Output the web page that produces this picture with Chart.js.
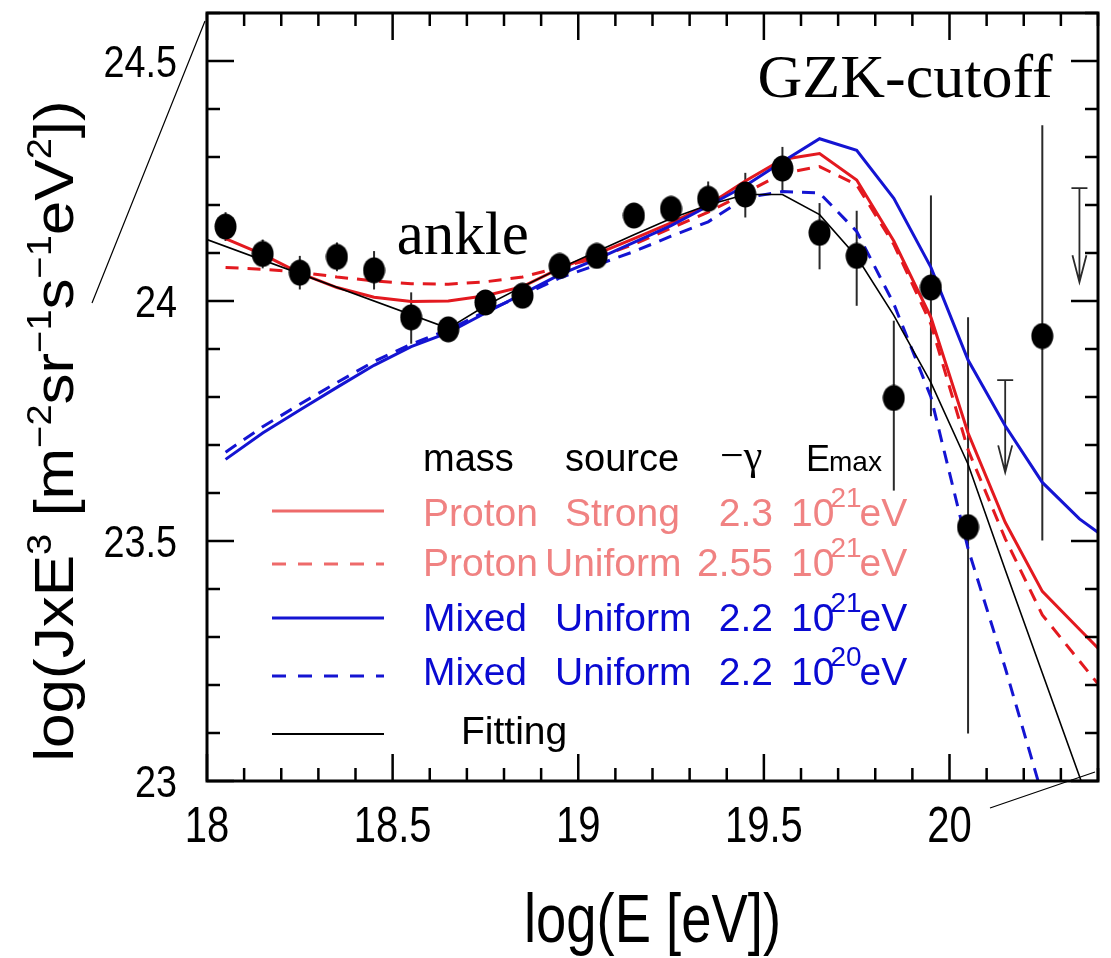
<!DOCTYPE html>
<html>
<head>
<meta charset="utf-8">
<title>UHECR spectrum: ankle and GZK cutoff</title>
<script src="https://cdn.jsdelivr.net/npm/chart.js@4/dist/chart.umd.min.js"></script>
<style>body{margin:0;background:#fff}</style>
</head>
<body>
<canvas id="myChart" width="1111" height="958"></canvas>
<script>
// measured flux points, log(E) bin centres
const dataE = [18.05, 18.15, 18.25, 18.35, 18.45, 18.55, 18.65, 18.75, 18.85, 18.95, 19.05,
               19.15, 19.25, 19.35, 19.45, 19.55, 19.65, 19.75, 19.85, 19.95, 20.05, 20.25];
const dataFlux = [24.155, 24.098, 24.059, 24.092, 24.064, 23.966, 23.941, 23.997, 24.011, 24.073, 24.094,
                  24.178, 24.192, 24.213, 24.222, 24.276, 24.142, 24.094, 23.798, 24.028, 23.529, 23.927];
const errHigh = [24.185, 24.128, 24.094, 24.122, 24.104, 24.018, 23.96, 24.015, 24.03, 24.09, 24.11,
                 24.195, 24.21, 24.249, 24.267, 24.321, 24.204, 24.188, 23.959, 24.22, 23.966, 24.366];
const errLow = [24.125, 24.068, 24.024, 24.062, 24.024, 23.911, 23.922, 23.979, 23.992, 24.056, 24.078,
                24.161, 24.174, 24.184, 24.174, 24.228, 24.066, 23.99, 23.605, 23.76, 23.099, 23.501];

// upper limits (bar top, arrow tip)
const ulE = [20.15, 20.35];
const ulTop = [23.835, 24.235];
const ulTip = [23.643, 24.039];

// model curves
const modelE = [18.05, 18.15, 18.25, 18.35, 18.45, 18.55, 18.65, 18.75, 18.85, 18.95, 19.05, 19.15, 19.25,
                19.35, 19.45, 19.55, 19.65, 19.75, 19.85, 19.95, 20.05, 20.15, 20.25, 20.35, 20.45];
const protonStrong = [24.13, 24.097, 24.058, 24.028, 24.008, 23.999, 24.0, 24.011, 24.03, 24.068, 24.098, 24.13, 24.163,
                      24.2, 24.25, 24.295, 24.307, 24.252, 24.125, 23.966, 23.725, 23.539, 23.395, 23.316, 23.238];
const protonUniform = [24.07, 24.066, 24.06, 24.05, 24.042, 24.036, 24.035, 24.04, 24.05, 24.07, 24.09, 24.118, 24.152,
                       24.185, 24.225, 24.266, 24.28, 24.242, 24.118, 23.952, 23.69, 23.505, 23.346, 23.25, 23.155];
const mixedHigh = [23.67, 23.725, 23.773, 23.82, 23.866, 23.905, 23.934, 23.975, 24.015, 24.055, 24.087, 24.122, 24.157,
                   24.198, 24.24, 24.29, 24.338, 24.314, 24.214, 24.07, 23.877, 23.74, 23.622, 23.546, 23.49];
const mixedLow = [23.685, 23.738, 23.785, 23.83, 23.874, 23.91, 23.94, 23.978, 24.012, 24.048, 24.075, 24.103, 24.135,
                  24.165, 24.215, 24.228, 24.225, 24.145, 23.994, 23.8, 23.484, 23.236, 22.97, 22.7, 22.45];
const fitE = [18.0, 18.65, 18.75, 18.85, 18.95, 19.05, 19.15, 19.25, 19.35, 19.45, 19.55,
              19.65, 19.75, 19.85, 19.95, 20.05, 20.15, 20.25, 20.35, 20.45];
const fitFlux = [24.128, 23.943, 23.99, 24.03, 24.068, 24.103, 24.138, 24.172, 24.2, 24.222, 24.222,
                 24.18, 24.092, 23.97, 23.83, 23.66, 23.44, 23.225, 23.01, 22.79];

// legend text
const legendHead = ['mass', 'source', '\u2212\u03b3', 'E', 'max'];
const seriesMass = ['Proton', 'Proton', 'Mixed', 'Mixed'];
const seriesSource = ['Strong', 'Uniform', 'Uniform', 'Uniform'];
const seriesGamma = ['2.3', '2.55', '2.2', '2.2'];
const seriesEmaxExp = ['21', '21', '21', '20'];
const fitLabel = 'Fitting';

// axis text
const xTitle = 'log(E [eV])';
const yTitleParts = [['log(JxE', 0], ['3', 1], [' [m', 0], ['\u22122', 1], ['sr', 0], ['\u22121', 1],
                     ['s', 0], ['\u22121', 1], ['eV', 0], ['2', 1], ['])', 0]];

const SANS = '"Liberation Sans", Arial, sans-serif';
const SERIF = '"Liberation Serif", "Times New Roman", serif';
const RED = '#e3191f', BLUE = '#1414d2', SALMON = '#f08282', TBLUE = '#0a0ad2';

function ellipseMarker(w, h) {
    const c = document.createElement('canvas');
    c.width = w; c.height = h;
    const g = c.getContext('2d');
    g.fillStyle = '#000';
    g.beginPath();
    g.ellipse(w / 2, h / 2, w / 2 - 0.5, h / 2 - 0.5, 0, 0, 2 * Math.PI);
    g.fill();
    return c;
}

function pts(xs, ys) {
    return xs.map((v, i) => ({x: v, y: ys[i]}));
}

function isMajor(v) {
    return Math.abs(v * 2 - Math.round(v * 2)) < 1e-6;
}

function tickText(v) {
    return String(Math.round(v * 10) / 10);
}

// condensed text: helvetica squeezed horizontally
function narrowText(ctx, s, x, y, size, sx, align) {
    ctx.save();
    ctx.translate(x, y);
    ctx.scale(sx, 1);
    ctx.font = size + 'px ' + SANS;
    ctx.textAlign = align;
    ctx.fillText(s, 0, 0);
    ctx.restore();
}

const deco = {
    id: 'deco',
    beforeDatasetsDraw(chart) {
        const {ctx, chartArea: a, scales: {x, y}} = chart;
        ctx.save();
        ctx.beginPath();
        ctx.rect(a.left, a.top, a.width, a.height);
        ctx.clip();
        ctx.strokeStyle = '#2a2a2a';
        ctx.lineWidth = 2;
        dataE.forEach((e, i) => {
            const px = x.getPixelForValue(e);
            ctx.beginPath();
            ctx.moveTo(px, y.getPixelForValue(errLow[i]));
            ctx.lineTo(px, y.getPixelForValue(errHigh[i]));
            ctx.stroke();
        });
        ctx.lineWidth = 1.8;
        ulE.forEach((e, i) => {
            const px = x.getPixelForValue(e);
            const top = y.getPixelForValue(ulTop[i]);
            const tip = y.getPixelForValue(ulTip[i]);
            ctx.beginPath();
            ctx.moveTo(px - 8, top); ctx.lineTo(px + 8, top);
            ctx.moveTo(px, top); ctx.lineTo(px, tip);
            ctx.moveTo(px - 7, tip - 27); ctx.lineTo(px, tip); ctx.lineTo(px + 7, tip - 27);
            ctx.stroke();
        });
        ctx.restore();
    },
    afterDraw(chart) {
        const {ctx, chartArea: a, scales: {x, y}} = chart;
        ctx.save();
        // ticks on all four sides, pointing inward
        ctx.strokeStyle = '#000';
        ctx.lineWidth = 2.5;
        ctx.beginPath();
        x.ticks.forEach(t => {
            const px = x.getPixelForValue(t.value), len = isMajor(t.value) ? 27 : 13;
            ctx.moveTo(px, a.bottom); ctx.lineTo(px, a.bottom - len);
            ctx.moveTo(px, a.top); ctx.lineTo(px, a.top + len);
        });
        y.ticks.forEach(t => {
            const py = y.getPixelForValue(t.value), len = isMajor(t.value) ? 27 : 13;
            ctx.moveTo(a.left, py); ctx.lineTo(a.left + len, py);
            ctx.moveTo(a.right, py); ctx.lineTo(a.right - len, py);
        });
        ctx.stroke();
        ctx.lineWidth = 3;
        ctx.strokeRect(a.left, a.top, a.width, a.height);

        // tick labels and x title, condensed like the original
        ctx.fillStyle = '#000';
        ctx.textBaseline = 'alphabetic';
        x.ticks.forEach(t => {
            if (isMajor(t.value) && t.value < x.max - 1e-6) {
                narrowText(ctx, tickText(t.value), x.getPixelForValue(t.value), a.bottom + 61, 50, 0.8, 'center');
            }
        });
        y.ticks.forEach(t => {
            if (isMajor(t.value)) {
                narrowText(ctx, tickText(t.value), a.left - 30, y.getPixelForValue(t.value) + 16, 45, 0.84, 'right');
            }
        });
        narrowText(ctx, xTitle, (a.left + a.right) / 2, a.bottom + 161, 68, 0.8, 'center');

        // thin zoom-guide lines outside the frame
        ctx.lineWidth = 1.2;
        ctx.beginPath();
        ctx.moveTo(a.left - 2, a.top + 8); ctx.lineTo(a.left - 115, a.top + 290);
        ctx.moveTo(a.right - 108, a.bottom + 27); ctx.lineTo(a.right - 3, a.bottom - 9);
        ctx.stroke();

        // annotations
        ctx.textAlign = 'left';
        ctx.font = '61px ' + SERIF;
        ctx.fillText('ankle', x.getPixelForValue(18.511), y.getPixelForValue(24.097));
        ctx.font = '62px ' + SERIF;
        ctx.fillText('GZK-cutoff', x.getPixelForValue(19.483), y.getPixelForValue(24.424));

        // legend
        const L = a.left, T = a.top;
        ctx.font = '38px ' + SANS;
        ctx.fillText(legendHead[0], L + 216, T + 458);
        ctx.fillText(legendHead[1], L + 358, T + 458);
        ctx.font = '42px ' + SERIF;
        ctx.fillText(legendHead[2], L + 513, T + 456);
        ctx.font = '36px ' + SANS;
        ctx.fillText(legendHead[3], L + 599, T + 458);
        ctx.font = '28px ' + SANS;
        ctx.fillText(legendHead[4], L + 622, T + 458);

        const rowY = [513, 563, 618, 672];
        const lineY = [498, 551, 605, 663];
        const srcX = [358, 338, 348, 348];
        const txtCol = [SALMON, SALMON, TBLUE, TBLUE];
        const lineCol = ['#ee6a6a', '#ee6a6a', BLUE, BLUE];
        const dash = [[], [14, 12], [], [14, 12]];
        for (let i = 0; i < 4; i++) {
            ctx.strokeStyle = lineCol[i];
            ctx.lineWidth = 3;
            ctx.setLineDash(dash[i]);
            ctx.beginPath();
            ctx.moveTo(L + 65, T + lineY[i]); ctx.lineTo(L + 177, T + lineY[i]);
            ctx.stroke();
            ctx.setLineDash([]);
            const by = T + rowY[i];
            ctx.fillStyle = txtCol[i];
            ctx.font = '39px ' + SANS;
            ctx.textAlign = 'left';
            ctx.fillText(seriesMass[i], L + 216, by);
            ctx.fillText(seriesSource[i], L + srcX[i], by);
            ctx.textAlign = 'right';
            ctx.fillText(seriesGamma[i], L + 566, by);
            ctx.textAlign = 'left';
            ctx.fillText('10', L + 584, by);
            const supX = L + 584 + ctx.measureText('10').width - 4;
            ctx.font = '28px ' + SANS;
            ctx.fillText(seriesEmaxExp[i], supX, by - 19);
            const evX = supX + ctx.measureText(seriesEmaxExp[i]).width - 2;
            ctx.font = '39px ' + SANS;
            ctx.fillText('eV', evX, by);
        }
        ctx.strokeStyle = '#000';
        ctx.lineWidth = 1.8;
        ctx.beginPath();
        ctx.moveTo(L + 65, T + 721); ctx.lineTo(L + 177, T + 721);
        ctx.stroke();
        ctx.fillStyle = '#000';
        ctx.font = '39px ' + SANS;
        ctx.fillText(fitLabel, L + 254, T + 731);

        // y axis title with superscripts
        const big = '62px ' + SANS, small = '38px ' + SANS;
        let w = 0;
        yTitleParts.forEach(p => { ctx.font = p[1] ? small : big; w += ctx.measureText(p[0]).width; });
        ctx.translate(a.left - 134, T + 418 + w / 2);
        ctx.rotate(-Math.PI / 2);
        ctx.scale(1, 0.9);
        let xx = 0;
        yTitleParts.forEach(p => {
            ctx.font = p[1] ? small : big;
            ctx.fillText(p[0], xx, p[1] ? -25 : 0);
            xx += ctx.measureText(p[0]).width;
        });
        ctx.restore();
    }
};

const marker = ellipseMarker(23, 27);

new Chart(document.getElementById('myChart'), {
    type: 'scatter',
    data: {
        datasets: [
            {label: 'data', data: pts(dataE, dataFlux), pointStyle: marker, pointRadius: 12, order: 0},
            {label: 'Fitting', data: pts(fitE, fitFlux), showLine: true, borderColor: '#000', borderWidth: 1.6, pointRadius: 0, order: 1},
            {label: 'Mixed Uniform 2.2 1e20', data: pts(modelE, mixedLow), showLine: true, borderColor: BLUE, borderWidth: 3, borderDash: [13, 9], pointRadius: 0, order: 2},
            {label: 'Mixed Uniform 2.2 1e21', data: pts(modelE, mixedHigh), showLine: true, borderColor: BLUE, borderWidth: 3, pointRadius: 0, order: 3},
            {label: 'Proton Uniform 2.55 1e21', data: pts(modelE, protonUniform), showLine: true, borderColor: RED, borderWidth: 3, borderDash: [13, 9], pointRadius: 0, order: 4},
            {label: 'Proton Strong 2.3 1e21', data: pts(modelE, protonStrong), showLine: true, borderColor: RED, borderWidth: 3, pointRadius: 0, order: 5}
        ]
    },
    options: {
        responsive: false,
        animation: false,
        events: [],
        devicePixelRatio: 1,
        layout: {padding: {top: 5, right: 6, left: 0, bottom: 0}},
        plugins: {legend: {display: false}, tooltip: {enabled: false}},
        scales: {
            x: {
                type: 'linear', min: 18, max: 20.4,
                grid: {display: false, drawTicks: false},
                border: {display: false},
                ticks: {stepSize: 0.1, autoSkip: false, display: false},
                afterFit: s => { s.height = 177; s.paddingLeft = 0; s.paddingRight = 0; }
            },
            y: {
                type: 'linear', min: 23, max: 24.6,
                grid: {display: false, drawTicks: false},
                border: {display: false},
                ticks: {stepSize: 0.1, autoSkip: false, display: false},
                afterFit: s => { s.width = 207; s.paddingTop = 0; s.paddingBottom = 0; }
            }
        }
    },
    plugins: [deco]
});
</script>
</body>
</html>
